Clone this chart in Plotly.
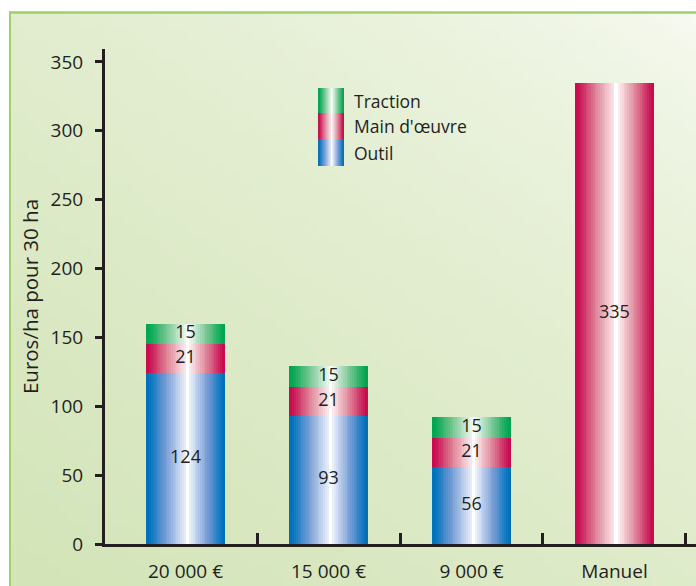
import base64
import struct
import zlib

import plotly.graph_objects as go

# ---- data -------------------------------------------------------------
categories = ["20 000 €", "15 000 €", "9 000 €", "Manuel"]
outil = [124, 93, 56, 0]
main_oeuvre = [21, 21, 21, 335]
traction = [15, 15, 15, 0]

series_names = ["Outil", "Main d'œuvre", "Traction"]
y_ticks = [0, 50, 100, 150, 200, 250, 300, 350]

# ---- styling ----------------------------------------------------------
FONT = "Open Sans"
INK = "#231f20"
# edge colour, mid-tone and core colour of each cylinder gradient
GRADIENTS = {
    "Outil": [(0, 114, 188), (122, 158, 214), (248, 250, 255)],
    "Main d'œuvre": [(200, 12, 80), (222, 130, 150), (255, 248, 248)],
    "Traction": [(0, 166, 81), (118, 198, 146), (248, 253, 249)],
}
BAR_WIDTH = 0.555
N_SLICES = 44
X_RANGE = [-0.563, 3.57]
Y_RANGE = [0, 359.4]

# plot area in pixels (figure 696 x 586)
PL, PR, PT, PB = 105, 696, 49, 544


def px_to_paper_x(px):
    return (px - PL) / (PR - PL)


def px_to_paper_y(py):
    return (PB - py) / (PB - PT)


def lerp(a, b, f):
    return tuple(x + (y - x) * f for x, y in zip(a, b))


def shade(stops, t):
    """Colour across a cylinder-like bar: saturated edges, white core."""
    c = 0.53
    d = abs(t - c) / (c if t < c else 1 - c)
    s = max(0.0, min(1.0, (1 - d - 0.08) / 0.92))
    if d < 0.05:
        rgb = (255, 255, 255)
    elif s < 0.45:
        rgb = lerp(stops[0], stops[1], s / 0.45)
    else:
        rgb = lerp(stops[1], stops[2], (s - 0.45) / 0.55)
    r, g, b = (round(v) for v in rgb)
    return f"rgb({r},{g},{b})"


def make_png(w, h, fn):
    rows = b""
    for j in range(h):
        row = bytearray([0])
        for i in range(w):
            row.extend(fn(i / (w - 1), j / (h - 1)))
        rows += bytes(row)

    def chunk(tag, data):
        c = tag + data
        return struct.pack(">I", len(data)) + c + struct.pack(">I", zlib.crc32(c) & 0xFFFFFFFF)

    png = b"\x89PNG\r\n\x1a\n"
    png += chunk(b"IHDR", struct.pack(">IIBBBBB", w, h, 8, 2, 0, 0, 0))
    png += chunk(b"IDAT", zlib.compress(rows, 9))
    png += chunk(b"IEND", b"")
    return "data:image/png;base64," + base64.b64encode(png).decode()


LIGHT = (249, 251, 244)
DARK = (211, 228, 184)


def bg_pixel(u, v):
    t = ((1 - u) * 0.45 + v * 0.55)
    t = t ** 0.6
    return bytes(round(LIGHT[k] + (DARK[k] - LIGHT[k]) * t) for k in range(3))


bg_uri = make_png(64, 56, bg_pixel)

# ---- stacking ---------------------------------------------------------
x_pos = list(range(len(categories)))
stack = [("Outil", outil), ("Main d'œuvre", main_oeuvre), ("Traction", traction)]
bases = {}
running = [0] * len(categories)
for name, vals in stack:
    bases[name] = list(running)
    running = [a + b for a, b in zip(running, vals)]

fig = go.Figure()

step = BAR_WIDTH / N_SLICES
for name, vals in stack:
    stops = GRADIENTS[name]
    for k in range(N_SLICES):
        off = -BAR_WIDTH / 2 + k * step
        w = min(step * 1.8, BAR_WIDTH / 2 - off)
        fig.add_trace(go.Bar(
            x=x_pos, y=vals, base=bases[name],
            offset=off, width=w,
            marker=dict(color=shade(stops, (k + 0.5) / N_SLICES), line=dict(width=0)),
            showlegend=False, hoverinfo="skip",
        ))

# value labels at the middle of every segment
for name, vals in stack:
    xs, ys, txt = [], [], []
    for i, v in enumerate(vals):
        if v:
            xs.append(x_pos[i])
            ys.append(bases[name][i] + v / 2)
            txt.append(str(v))
    fig.add_trace(go.Scatter(
        x=xs, y=ys, text=txt, mode="text",
        textfont=dict(family=FONT, size=18, color=INK),
        showlegend=False, hoverinfo="skip",
    ))

# ---- legend (gradient swatches) --------------------------------------
shapes = []
annotations = []
legend_rows = [("Traction", 88, 113), ("Main d'œuvre", 113, 139), ("Outil", 139, 166)]
sw_l, sw_r = 318, 344
n_sw = 26
for name, top, bot in legend_rows:
    stops = GRADIENTS[name]
    for k in range(n_sw):
        x0 = sw_l + (sw_r - sw_l) * k / n_sw
        x1 = sw_l + (sw_r - sw_l) * min(k + 1.8, n_sw) / n_sw
        shapes.append(dict(
            type="rect", xref="paper", yref="paper",
            x0=px_to_paper_x(x0), x1=px_to_paper_x(x1),
            y0=px_to_paper_y(bot), y1=px_to_paper_y(top),
            fillcolor=shade(stops, (k + 0.5) / n_sw), line=dict(width=0), layer="above",
        ))
    annotations.append(dict(
        text=name, xref="paper", yref="paper",
        x=px_to_paper_x(352), y=px_to_paper_y((top + bot) / 2),
        xanchor="left", yanchor="middle", showarrow=False,
        font=dict(family=FONT, size=17.5, color=INK),
    ))

# panel frame (left and top green rules)
frame_l, frame_t = 10, 12.5
shapes.append(dict(type="line", xref="paper", yref="paper",
                   x0=px_to_paper_x(frame_l), x1=px_to_paper_x(frame_l),
                   y0=px_to_paper_y(590), y1=px_to_paper_y(frame_t - 1),
                   line=dict(color="#9ed16a", width=2), layer="below"))
shapes.append(dict(type="line", xref="paper", yref="paper",
                   x0=px_to_paper_x(frame_l - 1), x1=px_to_paper_x(700),
                   y0=px_to_paper_y(frame_t), y1=px_to_paper_y(frame_t),
                   line=dict(color="#9ed16a", width=2.5), layer="below"))

fig.update_layout(
    width=696, height=586,
    margin=dict(l=PL, r=696 - PR, t=PT, b=586 - PB, pad=0),
    paper_bgcolor="white",
    plot_bgcolor="rgba(0,0,0,0)",
    barmode="overlay",
    bargap=0,
    font=dict(family=FONT, size=19, color=INK),
    shapes=shapes,
    annotations=annotations,
    images=[dict(
        source=bg_uri, xref="paper", yref="paper",
        x=px_to_paper_x(frame_l), y=px_to_paper_y(frame_t),
        sizex=px_to_paper_x(700) - px_to_paper_x(frame_l),
        sizey=px_to_paper_y(frame_t) - px_to_paper_y(590),
        xanchor="left", yanchor="top", sizing="stretch", layer="below",
    )],
    xaxis=dict(
        range=X_RANGE, showgrid=False, zeroline=False,
        showline=True, linecolor=INK, linewidth=2.5,
        tickmode="array", tickvals=x_pos, ticktext=categories,
        ticks="", ticklabelstandoff=8,
        tickfont=dict(family=FONT, size=19, color=INK),
        minor=dict(tickmode="array", tickvals=[0.5, 1.5, 2.5, 3.5],
                   ticks="inside", ticklen=11, tickwidth=3, tickcolor=INK,
                   showgrid=False),
        fixedrange=True,
    ),
    yaxis=dict(
        range=Y_RANGE, showgrid=False, zeroline=False,
        showline=True, linecolor=INK, linewidth=3,
        tickmode="array", tickvals=y_ticks,
        ticks="outside", ticklen=7, tickwidth=3, tickcolor=INK,
        ticklabelstandoff=8,
        tickfont=dict(family=FONT, size=19, color=INK),
        title=dict(text="Euros/ha pour 30 ha", standoff=7,
                   font=dict(family=FONT, size=20.5, color=INK)),
        fixedrange=True,
    ),
)

fig.write_html("out.html")
